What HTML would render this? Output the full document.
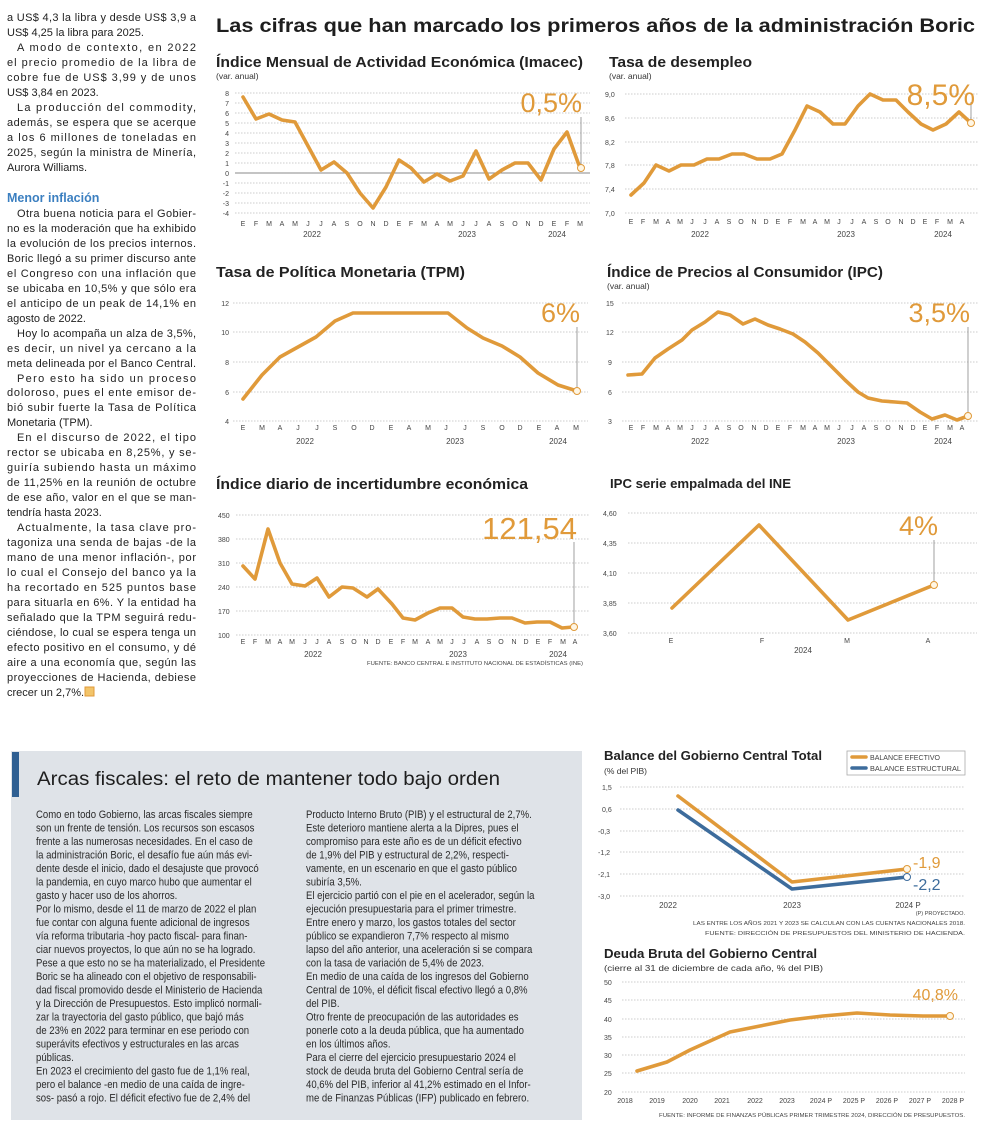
<!DOCTYPE html>
<html><head><meta charset="utf-8"><style>
html,body{margin:0;padding:0;background:#fff;}
svg{display:block;}
text{font-family:"Liberation Sans",sans-serif;}
.lc{font-size:11px;fill:#222;}
.ax{font-size:7px;fill:#444;}
.yr{font-size:8px;fill:#444;}
.ttl{font-size:14.5px;font-weight:bold;fill:#222;}
.sub{font-size:8.5px;fill:#333;}
.g{stroke:#bcbcbc;stroke-width:0.8;stroke-dasharray:1.5 1.5;}
.ln{fill:none;stroke:#e09a3a;stroke-width:3.6;stroke-linejoin:round;stroke-linecap:round;}
.big{font-size:27px;fill:#e09a3a;}
.vl{stroke:#888;stroke-width:0.8;}
.bt{font-size:11px;fill:#2a2a2a;}
.fn{font-size:5.6px;fill:#444;}
</style></head><body>
<svg width="988" height="1133" viewBox="0 0 988 1133" xmlns="http://www.w3.org/2000/svg">
<rect width="988" height="1133" fill="#fff"/>

<!-- LEFT COLUMN -->
<g class="lc">
<text x="7" y="21" textLength="189" lengthAdjust="spacing">a US$ 4,3 la libra y desde US$ 3,9 a</text>
<text x="7" y="36">US$ 4,25 la libra para 2025.</text>
<text x="17" y="51" textLength="179" lengthAdjust="spacing">A modo de contexto, en 2022</text>
<text x="7" y="66" textLength="189" lengthAdjust="spacing">el precio promedio de la libra de</text>
<text x="7" y="81" textLength="189" lengthAdjust="spacing">cobre fue de US$ 3,99 y de unos</text>
<text x="7" y="96">US$ 3,84 en 2023.</text>
<text x="17" y="111" textLength="179" lengthAdjust="spacing">La producción del commodity,</text>
<text x="7" y="126" textLength="189" lengthAdjust="spacing">además, se espera que se acerque</text>
<text x="7" y="141" textLength="189" lengthAdjust="spacing">a los 6 millones de toneladas en</text>
<text x="7" y="156" textLength="189" lengthAdjust="spacing">2025, según la ministra de Minería,</text>
<text x="7" y="171">Aurora Williams.</text>
<text x="7" y="202" style="font-size:12.5px;font-weight:bold;fill:#3b7fc0">Menor inflación</text>
<text x="17" y="217" textLength="179" lengthAdjust="spacing">Otra buena noticia para el Gobier-</text>
<text x="7" y="232" textLength="189" lengthAdjust="spacing">no es la moderación que ha exhibido</text>
<text x="7" y="247" textLength="189" lengthAdjust="spacing">la evolución de los precios internos.</text>
<text x="7" y="262" textLength="189" lengthAdjust="spacing">Boric llegó a su primer discurso ante</text>
<text x="7" y="277" textLength="189" lengthAdjust="spacing">el Congreso con una inflación que</text>
<text x="7" y="292" textLength="189" lengthAdjust="spacing">se ubicaba en 10,5% y que sólo era</text>
<text x="7" y="307" textLength="189" lengthAdjust="spacing">el anticipo de un peak de 14,1% en</text>
<text x="7" y="322">agosto de 2022.</text>
<text x="17" y="337" textLength="179" lengthAdjust="spacing">Hoy lo acompaña un alza de 3,5%,</text>
<text x="7" y="352" textLength="189" lengthAdjust="spacing">es decir, un nivel ya cercano a la</text>
<text x="7" y="367" textLength="189" lengthAdjust="spacing">meta delineada por el Banco Central.</text>
<text x="17" y="382" textLength="179" lengthAdjust="spacing">Pero esto ha sido un proceso</text>
<text x="7" y="396" textLength="189" lengthAdjust="spacing">doloroso, pues el ente emisor de-</text>
<text x="7" y="411" textLength="189" lengthAdjust="spacing">bió subir fuerte la Tasa de Política</text>
<text x="7" y="426">Monetaria (TPM).</text>
<text x="17" y="441" textLength="179" lengthAdjust="spacing">En el discurso de 2022, el tipo</text>
<text x="7" y="456" textLength="189" lengthAdjust="spacing">rector se ubicaba en 8,25%, y se-</text>
<text x="7" y="471" textLength="189" lengthAdjust="spacing">guiría subiendo hasta un máximo</text>
<text x="7" y="486" textLength="189" lengthAdjust="spacing">de 11,25% en la reunión de octubre</text>
<text x="7" y="501" textLength="189" lengthAdjust="spacing">de ese año, valor en el que se man-</text>
<text x="7" y="516">tendría hasta 2023.</text>
<text x="17" y="531" textLength="179" lengthAdjust="spacing">Actualmente, la tasa clave pro-</text>
<text x="7" y="546" textLength="189" lengthAdjust="spacing">tagoniza una senda de bajas -de la</text>
<text x="7" y="561" textLength="189" lengthAdjust="spacing">mano de una menor inflación-, por</text>
<text x="7" y="576" textLength="189" lengthAdjust="spacing">lo cual el Consejo del banco ya la</text>
<text x="7" y="591" textLength="189" lengthAdjust="spacing">ha recortado en 525 puntos base</text>
<text x="7" y="606" textLength="189" lengthAdjust="spacing">para situarla en 6%. Y la entidad ha</text>
<text x="7" y="621" textLength="189" lengthAdjust="spacing">señalado que la TPM seguirá redu-</text>
<text x="7" y="636" textLength="189" lengthAdjust="spacing">ciéndose, lo cual se espera tenga un</text>
<text x="7" y="651" textLength="189" lengthAdjust="spacing">efecto positivo en el consumo, y dé</text>
<text x="7" y="666" textLength="189" lengthAdjust="spacing">aire a una economía que, según las</text>
<text x="7" y="681" textLength="189" lengthAdjust="spacing">proyecciones de Hacienda, debiese</text>
<text x="7" y="696">crecer un 2,7%.</text>
</g>
<rect x="85" y="687" width="9" height="9" fill="#f2c46a" stroke="#e09a3a" stroke-width="1"/>

<!-- MAIN TITLE -->
<text x="216" y="32" textLength="759" lengthAdjust="spacingAndGlyphs" style="font-size:19px;font-weight:bold;fill:#1e1e1e">Las cifras que han marcado los primeros años de la administración Boric</text>

<!-- IMACEC -->
<text class="ttl" x="216" y="67" textLength="367" lengthAdjust="spacingAndGlyphs">Índice Mensual de Actividad Económica (Imacec)</text>
<text class="sub" x="216" y="79">(var. anual)</text>
<g>
<line class="g" x1="235" x2="590" y1="93" y2="93"/><line class="g" x1="235" x2="590" y1="103" y2="103"/><line class="g" x1="235" x2="590" y1="113" y2="113"/><line class="g" x1="235" x2="590" y1="123" y2="123"/><line class="g" x1="235" x2="590" y1="133" y2="133"/><line class="g" x1="235" x2="590" y1="143" y2="143"/><line class="g" x1="235" x2="590" y1="153" y2="153"/><line class="g" x1="235" x2="590" y1="163" y2="163"/><line class="g" x1="235" x2="590" y1="183" y2="183"/><line class="g" x1="235" x2="590" y1="193" y2="193"/><line class="g" x1="235" x2="590" y1="203" y2="203"/><line class="g" x1="235" x2="590" y1="213" y2="213"/>
<line x1="235" x2="590" y1="173" y2="173" stroke="#888" stroke-width="1"/>
</g>
<g class="ax" text-anchor="end">
<text x="229" y="96">8</text><text x="229" y="106">7</text><text x="229" y="116">6</text><text x="229" y="126">5</text><text x="229" y="136">4</text><text x="229" y="146">3</text><text x="229" y="156">2</text><text x="229" y="166">1</text><text x="229" y="176">0</text><text x="229" y="186">-1</text><text x="229" y="196">-2</text><text x="229" y="206">-3</text><text x="229" y="216">-4</text>
</g>
<g class="ax" text-anchor="middle">
<text x="243" y="226">E</text><text x="256" y="226">F</text><text x="269" y="226">M</text><text x="282" y="226">A</text><text x="295" y="226">M</text><text x="308" y="226">J</text><text x="321" y="226">J</text><text x="334" y="226">A</text><text x="347" y="226">S</text><text x="360" y="226">O</text><text x="373" y="226">N</text><text x="386" y="226">D</text><text x="399" y="226">E</text><text x="411" y="226">F</text><text x="424" y="226">M</text><text x="437" y="226">A</text><text x="450" y="226">M</text><text x="463" y="226">J</text><text x="476" y="226">J</text><text x="489" y="226">A</text><text x="502" y="226">S</text><text x="515" y="226">O</text><text x="528" y="226">N</text><text x="541" y="226">D</text><text x="554" y="226">E</text><text x="567" y="226">F</text><text x="580" y="226">M</text>
</g>
<g class="yr" text-anchor="middle"><text x="312" y="237">2022</text><text x="467" y="237">2023</text><text x="557" y="237">2024</text></g>
<polyline class="ln" points="243,97 256,119 269,114 282,120 295,122 308,146 321,170 334,162 347,173 360,193 373,208 386,187 399,160 411,168 424,182 437,174 450,181 463,176 476,151 489,179 502,170 515,163 528,163 541,180 554,149 567,132 580,168"/>
<line class="vl" x1="581" y1="117" x2="581" y2="165"/>
<circle cx="581" cy="168" r="3.5" fill="#fff6e4" stroke="#e09a3a" stroke-width="1"/>
<text class="big" x="582" y="112" text-anchor="end">0,5%</text>

<!-- DESEMPLEO -->
<text class="ttl" x="609" y="67" textLength="143" lengthAdjust="spacingAndGlyphs">Tasa de desempleo</text>
<text class="sub" x="609" y="79">(var. anual)</text>
<g>
<line class="g" x1="625" x2="978" y1="94" y2="94"/><line class="g" x1="625" x2="978" y1="118" y2="118"/><line class="g" x1="625" x2="978" y1="142" y2="142"/><line class="g" x1="625" x2="978" y1="165" y2="165"/><line class="g" x1="625" x2="978" y1="189" y2="189"/><line class="g" x1="625" x2="978" y1="213" y2="213"/>
</g>
<g class="ax">
<text x="605" y="97">9,0</text><text x="605" y="121">8,6</text><text x="605" y="145">8,2</text><text x="605" y="168">7,8</text><text x="605" y="192">7,4</text><text x="605" y="216">7,0</text>
</g>
<g class="ax" text-anchor="middle">
<text x="631" y="224">E</text><text x="643" y="224">F</text><text x="656" y="224">M</text><text x="668" y="224">A</text><text x="680" y="224">M</text><text x="692" y="224">J</text><text x="705" y="224">J</text><text x="717" y="224">A</text><text x="729" y="224">S</text><text x="741" y="224">O</text><text x="754" y="224">N</text><text x="766" y="224">D</text><text x="778" y="224">E</text><text x="790" y="224">F</text><text x="803" y="224">M</text><text x="815" y="224">A</text><text x="827" y="224">M</text><text x="839" y="224">J</text><text x="852" y="224">J</text><text x="864" y="224">A</text><text x="876" y="224">S</text><text x="888" y="224">O</text><text x="901" y="224">N</text><text x="913" y="224">D</text><text x="925" y="224">E</text><text x="937" y="224">F</text><text x="950" y="224">M</text><text x="962" y="224">A</text>
</g>
<g class="yr" text-anchor="middle"><text x="700" y="237">2022</text><text x="846" y="237">2023</text><text x="943" y="237">2024</text></g>
<polyline class="ln" points="631,195 644,183 656,165 669,171 681,165 694,165 707,159 719,159 732,154 744,154 757,159 770,159 782,154 795,130 807,106 820,112 833,124 845,124 858,106 870,94 883,100 896,100 908,112 921,124 933,130 946,124 959,112 971,123"/>
<line class="vl" x1="971" y1="102" x2="971" y2="120"/>
<circle cx="971" cy="123" r="3.5" fill="#fff6e4" stroke="#e09a3a" stroke-width="1"/>
<text class="big" x="975" y="105" text-anchor="end" style="font-size:30px">8,5%</text>

<!-- TPM -->
<text class="ttl" x="216" y="277" textLength="249" lengthAdjust="spacingAndGlyphs">Tasa de Política Monetaria (TPM)</text>
<g>
<line class="g" x1="233" x2="588" y1="303" y2="303"/><line class="g" x1="233" x2="588" y1="332" y2="332"/><line class="g" x1="233" x2="588" y1="362" y2="362"/><line class="g" x1="233" x2="588" y1="392" y2="392"/><line class="g" x1="233" x2="588" y1="421" y2="421"/>
</g>
<g class="ax" text-anchor="end">
<text x="229" y="306">12</text><text x="229" y="335">10</text><text x="229" y="365">8</text><text x="229" y="395">6</text><text x="229" y="424">4</text>
</g>
<g class="ax" text-anchor="middle">
<text x="243" y="430">E</text><text x="262" y="430">M</text><text x="280" y="430">A</text><text x="298" y="430">J</text><text x="317" y="430">J</text><text x="335" y="430">S</text><text x="354" y="430">O</text><text x="372" y="430">D</text><text x="391" y="430">E</text><text x="409" y="430">A</text><text x="428" y="430">M</text><text x="446" y="430">J</text><text x="465" y="430">J</text><text x="483" y="430">S</text><text x="502" y="430">O</text><text x="520" y="430">D</text><text x="539" y="430">E</text><text x="557" y="430">A</text><text x="576" y="430">M</text>
</g>
<g class="yr" text-anchor="middle"><text x="305" y="444">2022</text><text x="455" y="444">2023</text><text x="558" y="444">2024</text></g>
<polyline class="ln" points="243,399 262,375 280,357 298,347 316,337 335,321 353,313 448,313 467,328 483,338 502,346 520,357 538,373 558,385 577,391"/>
<line class="vl" x1="577" y1="327" x2="577" y2="388"/>
<circle cx="577" cy="391" r="3.5" fill="#fff6e4" stroke="#e09a3a" stroke-width="1"/>
<text class="big" x="580" y="322" text-anchor="end">6%</text>

<!-- IPC -->
<text class="ttl" x="607" y="277" textLength="276" lengthAdjust="spacingAndGlyphs">Índice de Precios al Consumidor (IPC)</text>
<text class="sub" x="607" y="289">(var. anual)</text>
<g>
<line class="g" x1="622" x2="978" y1="303" y2="303"/><line class="g" x1="622" x2="978" y1="332" y2="332"/><line class="g" x1="622" x2="978" y1="362" y2="362"/><line class="g" x1="622" x2="978" y1="392" y2="392"/><line class="g" x1="622" x2="978" y1="421" y2="421"/>
</g>
<g class="ax">
<text x="606" y="306">15</text><text x="606" y="335">12</text><text x="608" y="365">9</text><text x="608" y="395">6</text><text x="608" y="424">3</text>
</g>
<g class="ax" text-anchor="middle">
<text x="631" y="430">E</text><text x="643" y="430">F</text><text x="656" y="430">M</text><text x="668" y="430">A</text><text x="680" y="430">M</text><text x="692" y="430">J</text><text x="705" y="430">J</text><text x="717" y="430">A</text><text x="729" y="430">S</text><text x="741" y="430">O</text><text x="754" y="430">N</text><text x="766" y="430">D</text><text x="778" y="430">E</text><text x="790" y="430">F</text><text x="803" y="430">M</text><text x="815" y="430">A</text><text x="827" y="430">M</text><text x="839" y="430">J</text><text x="852" y="430">J</text><text x="864" y="430">A</text><text x="876" y="430">S</text><text x="888" y="430">O</text><text x="901" y="430">N</text><text x="913" y="430">D</text><text x="925" y="430">E</text><text x="937" y="430">F</text><text x="950" y="430">M</text><text x="962" y="430">A</text>
</g>
<g class="yr" text-anchor="middle"><text x="700" y="444">2022</text><text x="846" y="444">2023</text><text x="943" y="444">2024</text></g>
<polyline class="ln" points="628,375 642,374 655,358 668,349 682,340 692,330 705,322 718,312 730,315 743,324 755,319 768,325 780,329 793,334 805,342 818,353 832,367 845,380 858,392 868,398 882,401 895,402 907,403 920,412 932,419 945,415 957,420 968,416"/>
<line class="vl" x1="968" y1="327" x2="968" y2="413"/>
<circle cx="968" cy="416" r="3.5" fill="#fff6e4" stroke="#e09a3a" stroke-width="1"/>
<text class="big" x="970" y="322" text-anchor="end">3,5%</text>

<!-- INCERTIDUMBRE -->
<text class="ttl" x="216" y="489" textLength="312" lengthAdjust="spacingAndGlyphs">Índice diario de incertidumbre económica</text>
<g>
<line class="g" x1="236" x2="590" y1="515" y2="515"/><line class="g" x1="236" x2="590" y1="539" y2="539"/><line class="g" x1="236" x2="590" y1="563" y2="563"/><line class="g" x1="236" x2="590" y1="587" y2="587"/><line class="g" x1="236" x2="590" y1="611" y2="611"/><line class="g" x1="236" x2="590" y1="635" y2="635"/>
</g>
<g class="ax">
<text x="218" y="518">450</text><text x="218" y="542">380</text><text x="218" y="566">310</text><text x="218" y="590">240</text><text x="218" y="614">170</text><text x="218" y="638">100</text>
</g>
<g class="ax" text-anchor="middle">
<text x="243" y="644">E</text><text x="255" y="644">F</text><text x="268" y="644">M</text><text x="280" y="644">A</text><text x="292" y="644">M</text><text x="305" y="644">J</text><text x="317" y="644">J</text><text x="329" y="644">A</text><text x="342" y="644">S</text><text x="354" y="644">O</text><text x="366" y="644">N</text><text x="378" y="644">D</text><text x="391" y="644">E</text><text x="403" y="644">F</text><text x="415" y="644">M</text><text x="428" y="644">A</text><text x="440" y="644">M</text><text x="452" y="644">J</text><text x="464" y="644">J</text><text x="477" y="644">A</text><text x="489" y="644">S</text><text x="501" y="644">O</text><text x="514" y="644">N</text><text x="526" y="644">D</text><text x="538" y="644">E</text><text x="550" y="644">F</text><text x="563" y="644">M</text><text x="575" y="644">A</text>
</g>
<g class="yr" text-anchor="middle"><text x="313" y="657">2022</text><text x="458" y="657">2023</text><text x="558" y="657">2024</text></g>
<text x="583" y="665" text-anchor="end" class="fn" textLength="216" lengthAdjust="spacingAndGlyphs">FUENTE: BANCO CENTRAL E INSTITUTO NACIONAL DE ESTADÍSTICAS (INE)</text>
<polyline class="ln" points="243,566 255,579 268,529 280,563 292,584 305,586 317,578 329,597 342,587 353,588 367,597 378,589 392,604 403,618 415,620 428,613 440,608 452,608 463,617 475,619 487,619 500,618 512,618 525,623 537,622 550,622 562,628 573,627"/>
<line class="vl" x1="574" y1="542" x2="574" y2="624"/>
<circle cx="574" cy="627" r="3.5" fill="#fff6e4" stroke="#e09a3a" stroke-width="1"/>
<text class="big" x="577" y="539" text-anchor="end" style="font-size:31px">121,54</text>

<!-- INE -->
<text class="ttl" x="610" y="488" textLength="181" lengthAdjust="spacingAndGlyphs" style="font-size:13px">IPC serie empalmada del INE</text>
<g>
<line class="g" x1="628" x2="977" y1="513" y2="513"/><line class="g" x1="628" x2="977" y1="543" y2="543"/><line class="g" x1="628" x2="977" y1="573" y2="573"/><line class="g" x1="628" x2="977" y1="603" y2="603"/><line class="g" x1="628" x2="977" y1="633" y2="633"/>
</g>
<g class="ax">
<text x="603" y="516">4,60</text><text x="603" y="546">4,35</text><text x="603" y="576">4,10</text><text x="603" y="606">3,85</text><text x="603" y="636">3,60</text>
</g>
<g class="ax" text-anchor="middle"><text x="671" y="643">E</text><text x="762" y="643">F</text><text x="847" y="643">M</text><text x="928" y="643">A</text></g>
<text class="yr" x="803" y="653" text-anchor="middle">2024</text>
<polyline class="ln" points="672,608 759,525 848,620 934,585"/>
<line class="vl" x1="934" y1="540" x2="934" y2="582"/>
<circle cx="934" cy="585" r="3.5" fill="#fff6e4" stroke="#e09a3a" stroke-width="1"/>
<text class="big" x="938" y="535" text-anchor="end">4%</text>

<!-- ARCAS FISCALES BOX -->
<rect x="11" y="751" width="571" height="369" fill="#dfe3e8"/>
<rect x="12" y="752" width="7" height="45" fill="#2f5f92"/>
<text x="37" y="785" textLength="463" lengthAdjust="spacingAndGlyphs" style="font-size:19px;fill:#1e1e1e">Arcas fiscales: el reto de mantener todo bajo orden</text>
<g transform="translate(36,818) scale(0.87,1)" class="bt">
<text x="0" y="0">Como en todo Gobierno, las arcas fiscales siempre</text>
<text x="0" y="13.5">son un frente de tensión. Los recursos son escasos</text>
<text x="0" y="27">frente a las numerosas necesidades. En el caso de</text>
<text x="0" y="40.5">la administración Boric, el desafío fue aún más evi-</text>
<text x="0" y="54">dente desde el inicio, dado el desajuste que provocó</text>
<text x="0" y="67.5">la pandemia, en cuyo marco hubo que aumentar el</text>
<text x="0" y="81">gasto y hacer uso de los ahorros.</text>
<text x="0" y="94.5">Por lo mismo, desde el 11 de marzo de 2022 el plan</text>
<text x="0" y="108">fue contar con alguna fuente adicional de ingresos</text>
<text x="0" y="121.5">vía reforma tributaria -hoy pacto fiscal- para finan-</text>
<text x="0" y="135">ciar nuevos proyectos, lo que aún no se ha logrado.</text>
<text x="0" y="148.5">Pese a que esto no se ha materializado, el Presidente</text>
<text x="0" y="162">Boric se ha alineado con el objetivo de responsabili-</text>
<text x="0" y="175.5">dad fiscal promovido desde el Ministerio de Hacienda</text>
<text x="0" y="189">y la Dirección de Presupuestos. Esto implicó normali-</text>
<text x="0" y="202.5">zar la trayectoria del gasto público, que bajó más</text>
<text x="0" y="216">de 23% en 2022 para terminar en ese periodo con</text>
<text x="0" y="229.5">superávits efectivos y estructurales en las arcas</text>
<text x="0" y="243">públicas.</text>
<text x="0" y="256.5">En 2023 el crecimiento del gasto fue de 1,1% real,</text>
<text x="0" y="270">pero el balance -en medio de una caída de ingre-</text>
<text x="0" y="283.5">sos-  pasó a rojo. El déficit efectivo fue de 2,4% del</text>
</g>
<g transform="translate(306,818) scale(0.87,1)" class="bt">
<text x="0" y="0">Producto Interno Bruto (PIB) y el estructural de 2,7%.</text>
<text x="0" y="13.5">Este deterioro mantiene alerta a la Dipres, pues el</text>
<text x="0" y="27">compromiso para este año es de un déficit efectivo</text>
<text x="0" y="40.5">de 1,9% del PIB y estructural de 2,2%, respecti-</text>
<text x="0" y="54">vamente, en un escenario en que el gasto público</text>
<text x="0" y="67.5">subiría 3,5%.</text>
<text x="0" y="81">El ejercicio partió con el pie en el acelerador, según la</text>
<text x="0" y="94.5">ejecución presupuestaria para el primer trimestre.</text>
<text x="0" y="108">Entre enero y marzo, los gastos totales del sector</text>
<text x="0" y="121.5">público se expandieron 7,7% respecto al mismo</text>
<text x="0" y="135">lapso del año anterior, una aceleración si se compara</text>
<text x="0" y="148.5">con la tasa de variación de 5,4% de 2023.</text>
<text x="0" y="162">En medio de una caída de los ingresos del Gobierno</text>
<text x="0" y="175.5">Central de 10%, el déficit fiscal efectivo llegó a 0,8%</text>
<text x="0" y="189">del PIB.</text>
<text x="0" y="202.5">Otro frente de preocupación de las autoridades es</text>
<text x="0" y="216">ponerle coto a la deuda pública, que ha aumentado</text>
<text x="0" y="229.5">en los últimos años.</text>
<text x="0" y="243">Para el cierre del ejercicio presupuestario 2024 el</text>
<text x="0" y="256.5">stock de deuda bruta del Gobierno Central sería de</text>
<text x="0" y="270">40,6% del PIB, inferior al 41,2% estimado en el Infor-</text>
<text x="0" y="283.5">me de Finanzas Públicas (IFP) publicado en febrero.</text>
</g>

<!-- BALANCE -->
<text class="ttl" x="604" y="760" textLength="218" lengthAdjust="spacingAndGlyphs" style="font-size:13px">Balance del Gobierno Central Total</text>
<text class="sub" x="604" y="774">(% del PIB)</text>
<rect x="847" y="751" width="118" height="24" fill="#fff" stroke="#aaa" stroke-width="0.8"/>
<line x1="852" x2="866" y1="757" y2="757" stroke="#e09a3a" stroke-width="3.5" stroke-linecap="round"/>
<line x1="852" x2="866" y1="768" y2="768" stroke="#3d6c9c" stroke-width="3.5" stroke-linecap="round"/>
<text x="870" y="760" class="fn" style="font-size:7px" textLength="70" lengthAdjust="spacingAndGlyphs">BALANCE EFECTIVO</text>
<text x="870" y="771" class="fn" style="font-size:7px" textLength="91" lengthAdjust="spacingAndGlyphs">BALANCE ESTRUCTURAL</text>
<g>
<line class="g" x1="620" x2="965" y1="787" y2="787"/><line class="g" x1="620" x2="965" y1="809" y2="809"/><line class="g" x1="620" x2="965" y1="831" y2="831"/><line class="g" x1="620" x2="965" y1="852" y2="852"/><line class="g" x1="620" x2="965" y1="874" y2="874"/><line class="g" x1="620" x2="965" y1="896" y2="896"/>
</g>
<g class="ax">
<text x="602" y="790">1,5</text><text x="602" y="812">0,6</text><text x="598" y="834">-0,3</text><text x="598" y="855">-1,2</text><text x="598" y="877">-2,1</text><text x="598" y="899">-3,0</text>
</g>
<g class="yr" text-anchor="middle"><text x="668" y="908">2022</text><text x="792" y="908">2023</text><text x="908" y="908">2024 P</text></g>
<polyline points="678,810 792,889 907,877" fill="none" stroke="#3d6c9c" stroke-width="3.6" stroke-linejoin="round" stroke-linecap="round"/>
<polyline class="ln" points="678,796 792,882 907,869"/>
<circle cx="907" cy="869" r="3.5" fill="#fff6e4" stroke="#e09a3a" stroke-width="1"/>
<circle cx="907" cy="877" r="3.5" fill="#fff" stroke="#3d6c9c" stroke-width="1"/>
<text x="913" y="868" style="font-size:16px;fill:#e09a3a">-1,9</text>
<text x="913" y="890" style="font-size:16px;fill:#3d6c9c">-2,2</text>
<g class="fn" text-anchor="end">
<text x="965" y="915">(P) PROYECTADO.</text>
<text x="965" y="925" textLength="272" lengthAdjust="spacingAndGlyphs">LAS ENTRE LOS AÑOS 2021 Y 2023 SE CALCULAN  CON LAS CUENTAS NACIONALES 2018.</text>
<text x="965" y="935" textLength="260" lengthAdjust="spacingAndGlyphs">FUENTE: DIRECCIÓN DE PRESUPUESTOS DEL MINISTERIO DE HACIENDA.</text>
</g>

<!-- DEUDA -->
<text class="ttl" x="604" y="958" textLength="213" lengthAdjust="spacingAndGlyphs" style="font-size:13px">Deuda Bruta del Gobierno Central</text>
<text class="sub" x="604" y="971" textLength="219" lengthAdjust="spacingAndGlyphs">(cierre al 31 de diciembre de cada año, % del PIB)</text>
<g>
<line class="g" x1="622" x2="965" y1="982" y2="982"/><line class="g" x1="622" x2="965" y1="1000" y2="1000"/><line class="g" x1="622" x2="965" y1="1019" y2="1019"/><line class="g" x1="622" x2="965" y1="1037" y2="1037"/><line class="g" x1="622" x2="965" y1="1055" y2="1055"/><line class="g" x1="622" x2="965" y1="1073" y2="1073"/><line class="g" x1="622" x2="965" y1="1092" y2="1092"/>
</g>
<g class="ax">
<text x="604" y="985">50</text><text x="604" y="1003">45</text><text x="604" y="1022">40</text><text x="604" y="1040">35</text><text x="604" y="1058">30</text><text x="604" y="1076">25</text><text x="604" y="1095">20</text>
</g>
<g class="ax" text-anchor="middle">
<text x="625" y="1103">2018</text><text x="657" y="1103">2019</text><text x="690" y="1103">2020</text><text x="722" y="1103">2021</text><text x="755" y="1103">2022</text><text x="787" y="1103">2023</text><text x="821" y="1103">2024 P</text><text x="854" y="1103">2025 P</text><text x="887" y="1103">2026 P</text><text x="920" y="1103">2027 P</text><text x="953" y="1103">2028 P</text>
</g>
<polyline class="ln" points="637,1071 667,1062 690,1050 730,1032 760,1026 790,1020 823,1016 857,1013 890,1015 923,1016 950,1016"/>
<circle cx="950" cy="1016" r="3.5" fill="#fff6e4" stroke="#e09a3a" stroke-width="1"/>
<text x="958" y="1000" text-anchor="end" style="font-size:16px;fill:#e09a3a">40,8%</text>
<text x="965" y="1117" class="fn" text-anchor="end" textLength="306" lengthAdjust="spacingAndGlyphs">FUENTE: INFORME DE FINANZAS PÚBLICAS PRIMER TRIMESTRE 2024, DIRECCIÓN DE PRESUPUESTOS.</text>
</svg>
</body></html>
